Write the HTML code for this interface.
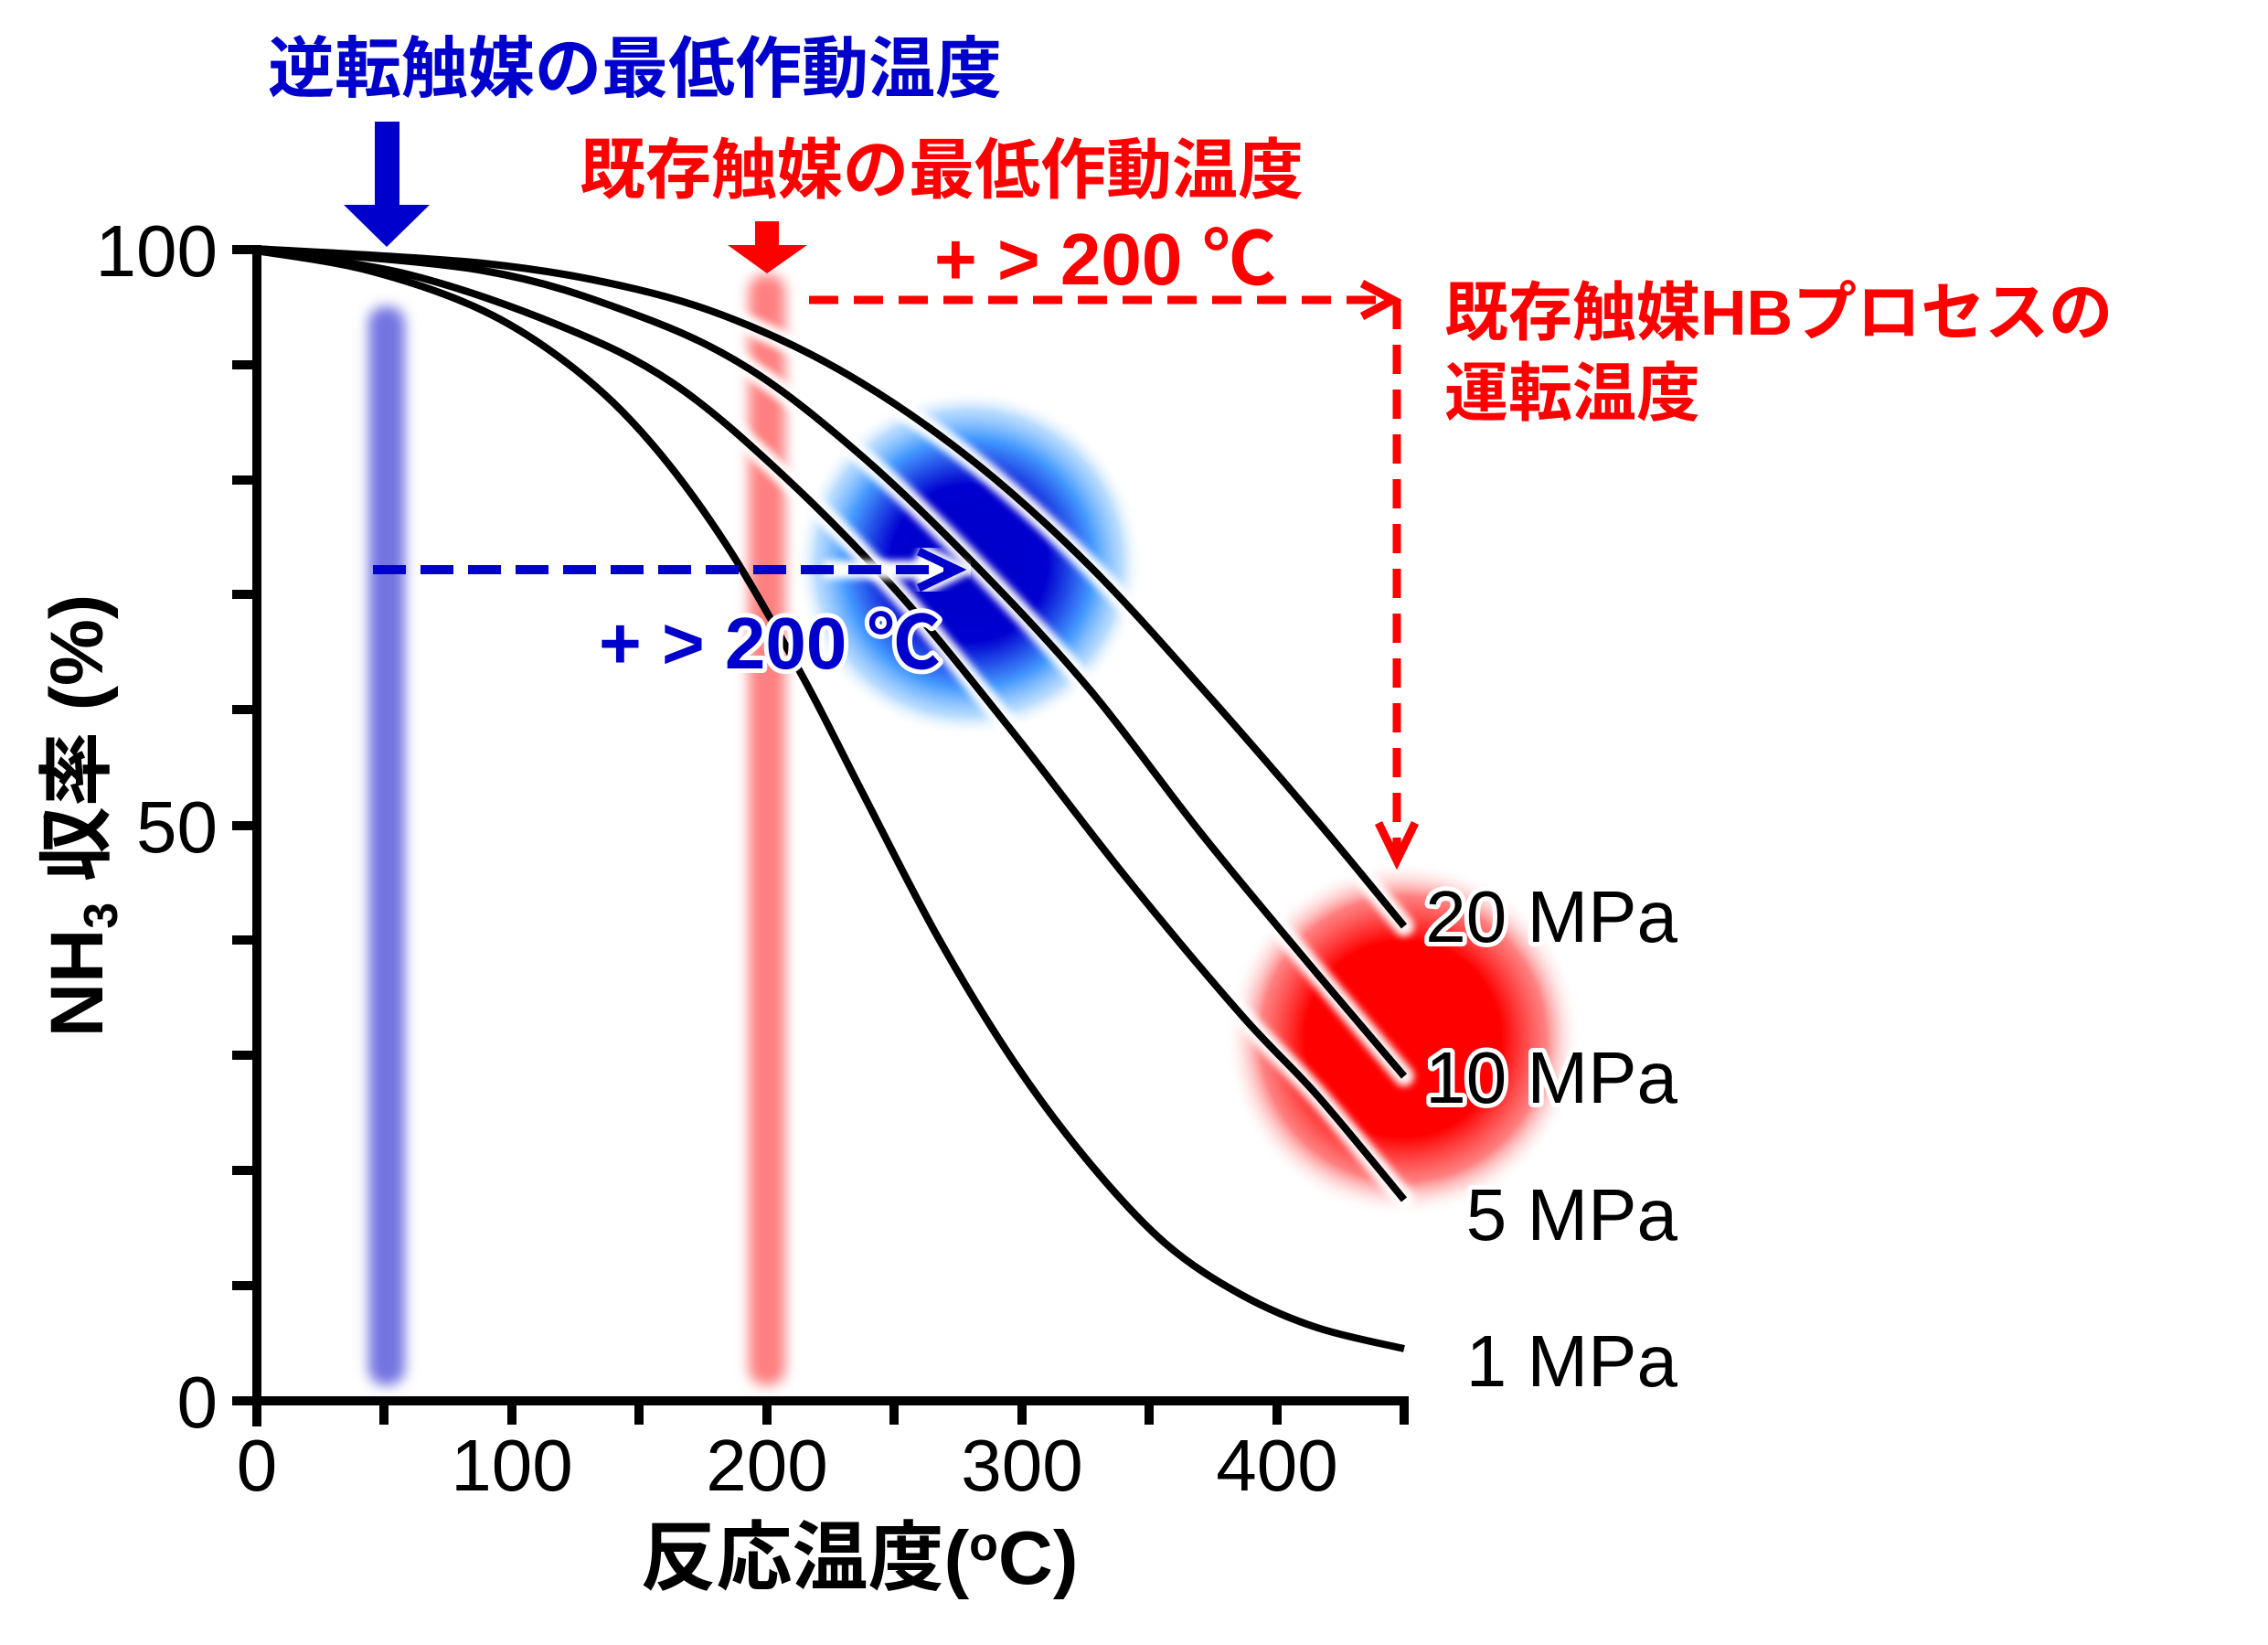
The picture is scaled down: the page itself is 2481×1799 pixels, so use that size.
<!DOCTYPE html>
<html><head><meta charset="utf-8"><style>
html,body{margin:0;padding:0;background:#fff;}
svg{display:block;}
text{font-family:"Liberation Sans","Noto Sans CJK JP",sans-serif;}
.h{paint-order:stroke;stroke:#fff;stroke-width:10px;stroke-linejoin:round;}
</style></head><body>
<svg width="2481" height="1799" viewBox="0 0 2481 1799" xmlns="http://www.w3.org/2000/svg">
<defs>
<radialGradient id="bg" cx="0.5" cy="0.5" r="0.5">
<stop offset="0" stop-color="#0000c8"/>
<stop offset="0.45" stop-color="#0000d0"/>
<stop offset="0.72" stop-color="#4499ff"/>
<stop offset="0.88" stop-color="#99ccff" stop-opacity="0.7"/>
<stop offset="1" stop-color="#ffffff" stop-opacity="0"/>
</radialGradient>
<radialGradient id="rg" cx="0.5" cy="0.5" r="0.5">
<stop offset="0" stop-color="#ff0000"/>
<stop offset="0.55" stop-color="#ff0000"/>
<stop offset="0.8" stop-color="#ff6060" stop-opacity="0.8"/>
<stop offset="1" stop-color="#ffffff" stop-opacity="0"/>
</radialGradient>
<filter id="blur" x="-50%" y="-10%" width="200%" height="120%"><feGaussianBlur stdDeviation="7"/></filter>
<filter id="hb"><feGaussianBlur stdDeviation="4"/></filter>
</defs>

<rect x="403" y="335" width="40" height="1180" rx="18" fill="#7474e2" filter="url(#blur)"/>
<rect x="819" y="300" width="40" height="1215" rx="18" fill="#ff8080" filter="url(#blur)"/>

<circle cx="1060" cy="616" r="190" fill="url(#bg)"/>
<circle cx="1535" cy="1136" r="195" fill="url(#rg)"/>

<g id="halos" fill="none" stroke="#fff" stroke-width="22" stroke-linejoin="round" stroke-linecap="round" filter="url(#hb)" opacity="0.95"></g>
<g id="curves" fill="none" stroke="#000" stroke-width="8" stroke-linejoin="round"></g>

<g stroke="#000" stroke-width="10" fill="none">
<line x1="281" y1="268" x2="281" y2="1560"/>
<line x1="254" y1="1532" x2="1541" y2="1532"/>
<line x1="254" y1="273" x2="281" y2="273"/>
<line x1="254" y1="399" x2="281" y2="399"/>
<line x1="254" y1="525" x2="281" y2="525"/>
<line x1="254" y1="650" x2="281" y2="650"/>
<line x1="254" y1="776" x2="281" y2="776"/>
<line x1="254" y1="903" x2="281" y2="903"/>
<line x1="254" y1="1028" x2="281" y2="1028"/>
<line x1="254" y1="1154" x2="281" y2="1154"/>
<line x1="254" y1="1280" x2="281" y2="1280"/>
<line x1="254" y1="1406" x2="281" y2="1406"/>
<line x1="420" y1="1532" x2="420" y2="1558"/>
<line x1="560" y1="1532" x2="560" y2="1558"/>
<line x1="699" y1="1532" x2="699" y2="1558"/>
<line x1="839" y1="1532" x2="839" y2="1558"/>
<line x1="978" y1="1532" x2="978" y2="1558"/>
<line x1="1118" y1="1532" x2="1118" y2="1558"/>
<line x1="1257" y1="1532" x2="1257" y2="1558"/>
<line x1="1397" y1="1532" x2="1397" y2="1558"/>
<line x1="1536" y1="1532" x2="1536" y2="1558"/>
</g>

<g font-size="80" fill="#000">
<text x="238" y="302" text-anchor="end">100</text>
<text x="238" y="932" text-anchor="end">50</text>
<text x="238" y="1561" text-anchor="end">0</text>
<g text-anchor="middle">
<text x="281" y="1630">0</text>
<text x="560" y="1630">100</text>
<text x="839" y="1630">200</text>
<text x="1118" y="1630">300</text>
<text x="1397" y="1630">400</text>
</g>
<g text-anchor="end" font-size="80" class="h">
<text x="1835" y="1030">20 MPa</text>
<text x="1835" y="1206">10 MPa</text>
<text x="1835" y="1356">5 MPa</text>
<text x="1835" y="1516">1 MPa</text>
</g>
</g>

<text x="940" y="1732" font-size="83" font-weight="bold" text-anchor="middle">反応温度(<tspan font-size="52" dy="-26">o</tspan><tspan dy="26">C)</tspan></text>
<text transform="translate(112,892) rotate(-90)" font-size="82" font-weight="bold" text-anchor="middle">NH<tspan font-size="52" dy="16">3</tspan><tspan dy="-16"> 収率 (%)</tspan></text>

<rect x="410" y="133" width="27" height="92" fill="#0000cc"/>
<polygon points="376,224 470,224 423,270" fill="#0000cc"/>
<rect x="826" y="242" width="26" height="28" fill="#ff0000"/>
<polygon points="796,268 883,268 839,299" fill="#ff0000"/>

<g fill="none" stroke="#fff" stroke-width="20" filter="url(#hb)">
<line x1="900" y1="623" x2="1040" y2="623"/>
<polyline points="1005,603 1047,623 1005,643"/>
</g>
<line x1="408" y1="623" x2="1040" y2="623" stroke="#0000cc" stroke-width="10" stroke-dasharray="36,16"/>
<polyline points="1005,603 1047,623 1005,643" fill="none" stroke="#0000cc" stroke-width="9"/>

<line x1="885" y1="328" x2="1518" y2="328" stroke="#ff0000" stroke-width="9" stroke-dasharray="32,17"/>
<polyline points="1490,310 1524,328 1490,346" fill="none" stroke="#ff0000" stroke-width="9"/>
<line x1="1528" y1="328" x2="1528" y2="935" stroke="#ff0000" stroke-width="9" stroke-dasharray="32,17"/>
<polyline points="1508,900 1528,941 1548,900" fill="none" stroke="#ff0000" stroke-width="9"/>

<text x="293" y="100" font-size="73" font-weight="bold" fill="#0000cc">逆転触媒の最低作動温度</text>
<text x="634" y="211" font-size="72" font-weight="bold" fill="#ff0000">既存触媒の最低作動温度</text>
<text x="1022" y="311" font-size="80" font-weight="bold" fill="#ff0000">+ &gt; 200 ℃</text>
<text x="655" y="731" font-size="80" font-weight="bold" fill="#0000cc" class="h">+ &gt; 200 ℃</text>
<text x="1580" y="366" font-size="70" font-weight="bold" fill="#ff0000">既存触媒HBプロセスの</text>
<text x="1580" y="454" font-size="70" font-weight="bold" fill="#ff0000">運転温度</text>
</svg>
<script>
var curves=[
[[280,272],[529,288],[695,316],[819,356],[943,419],[1068,507],[1192,619],[1316,754],[1441,898],[1536,1013]],
[[280,272],[529,296],[695,344],[819,403],[943,499],[1068,619],[1192,754],[1316,914],[1441,1065],[1536,1177]],
[[280,274],[446,300],[612,356],[736,419],[860,523],[985,651],[1109,802],[1233,961],[1358,1110],[1441,1198],[1536,1312]],
[[280,274],[404,296],[529,340],[628,403],[711,483],[794,595],[877,738],[943,866],[1026,1025],[1109,1161],[1192,1272],[1275,1360],[1358,1416],[1441,1452],[1536,1475]]
];
function cr(p){var d="M"+p[0][0]+","+p[0][1];for(var i=0;i<p.length-1;i++){var p0=p[i-1]||p[i],p1=p[i],p2=p[i+1],p3=p[i+2]||p2;
var c1=[p1[0]+(p2[0]-p0[0])/6,p1[1]+(p2[1]-p0[1])/6],c2=[p2[0]-(p3[0]-p1[0])/6,p2[1]-(p3[1]-p1[1])/6];
d+=" C"+c1[0].toFixed(1)+","+c1[1].toFixed(1)+" "+c2[0].toFixed(1)+","+c2[1].toFixed(1)+" "+p2[0]+","+p2[1];}return d;}
var NS="http://www.w3.org/2000/svg",h=document.getElementById("halos"),c=document.getElementById("curves");
curves.forEach(function(p,i){var d=cr(p);if(i<3){var a=document.createElementNS(NS,"path");a.setAttribute("d",d);h.appendChild(a);}
var b=document.createElementNS(NS,"path");b.setAttribute("d",d);c.appendChild(b);});
</script>
</body></html>
